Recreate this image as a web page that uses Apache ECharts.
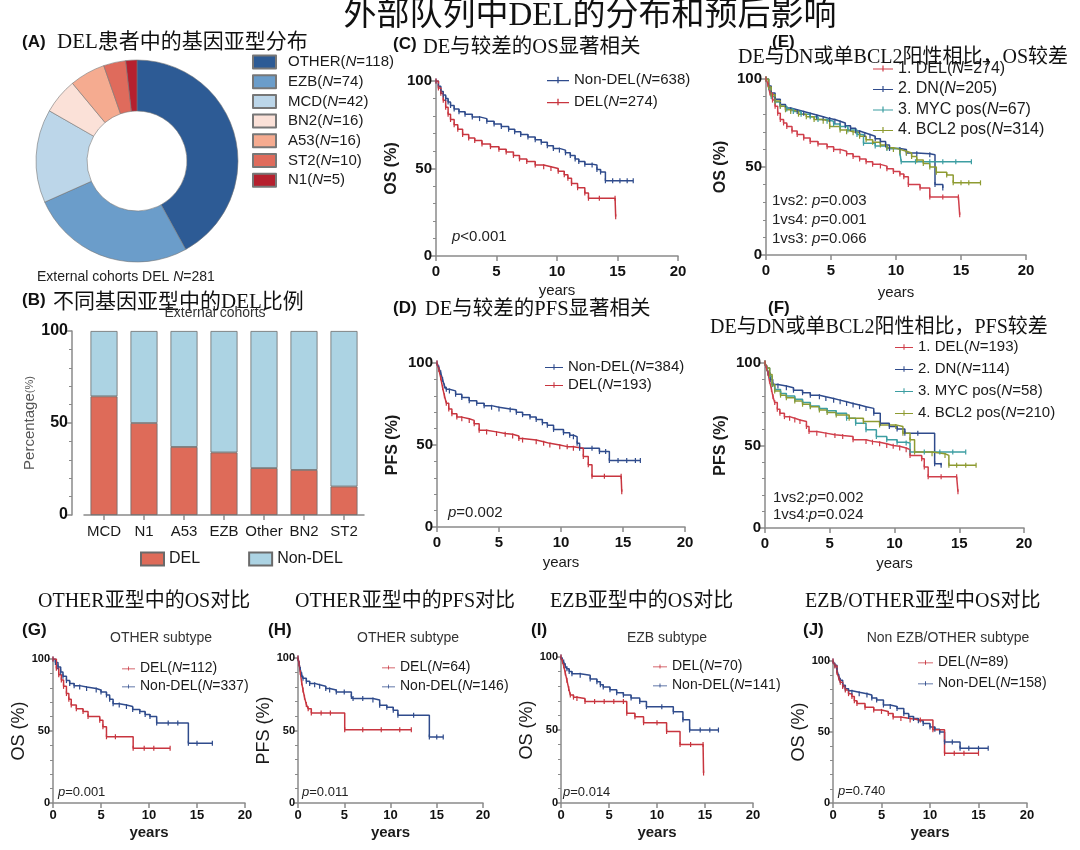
<!DOCTYPE html>
<html><head><meta charset="utf-8">
<script src="https://cdn.jsdelivr.net/npm/echarts/dist/echarts.min.js"></script>
<style>html,body{margin:0;padding:0;background:#fff}#c{width:1080px;height:850px}</style>
</head><body><div id="c"></div>
<script>
// ---------- DATA ----------
const subtypeNames = ['OTHER','EZB','MCD','BN2','A53','ST2','N1'];
const subtypeCounts = [118,74,42,16,16,10,5];

const barCategories = ['MCD','N1','A53','EZB','Other','BN2','ST2'];
const delPct    = [64.5,50,37,34,25.5,24.5,15.5];
const nonDelPct = [35.5,50,63,66,74.5,75.5,84.5];

const yTicksPct = [0,50,100];
const xTicksYears = [0,5,10,15,20];

// (C) OS all
const osAllNonDel = [[0,100],[0.2,97],[0.4,94],[0.6,92],[0.8,90],[1.0,88],[1.2,86],[1.5,84],[1.9,82.5],[2.4,81],[3.0,79.5],[3.6,78.5],[4.2,77],[4.8,75.5],[5.4,74],[6.0,72.5],[6.5,71],[7.0,69.5],[7.6,68],[8.2,66.5],[8.7,65],[9.2,63],[9.7,61.5],[10.2,60.5],[10.7,59],[11.1,57.5],[11.5,55.5],[11.8,54],[12.3,52.5],[12.9,52],[13.3,49.5],[13.6,48],[14.0,43],[14.6,43],[15.2,43],[15.8,43],[16.3,43]];
const osAllDel = [[0,100],[0.2,96],[0.4,93],[0.6,89],[0.8,85],[1.0,81],[1.2,78],[1.5,75],[1.8,72.5],[2.2,69.5],[2.7,67.5],[3.2,66],[3.8,64],[4.5,62.5],[5.2,61],[5.8,59.5],[6.4,57.5],[6.9,55.5],[7.5,54],[8.2,52],[8.9,51],[9.5,50],[10.1,48.5],[10.6,46.5],[10.9,44.5],[11.2,41.5],[11.7,39],[12.3,36],[12.6,33],[13.5,33],[14.8,33],[14.85,22.5]];
// (D) PFS all
const pfsAllNonDel = [[0,100],[0.15,97],[0.3,94],[0.45,90],[0.6,86],[0.75,84],[1.0,83],[1.5,81],[2.0,79],[2.6,77],[3.2,75.5],[3.8,74],[4.4,73],[5.0,72],[5.9,71.5],[6.4,70],[6.9,68.5],[7.5,67],[8.0,65.5],[8.5,63.5],[8.9,62],[9.4,59.5],[10.2,57.5],[10.7,56],[11.0,55],[11.3,51],[11.5,48],[12.5,48],[13.1,46],[13.6,46],[13.9,40.5],[14.6,40.5],[15.3,40.5],[16.0,40.5],[16.4,40.5]];
const pfsAllDel = [[0,100],[0.15,96],[0.3,91],[0.45,85],[0.6,80],[0.75,75.5],[0.95,72],[1.2,69],[1.6,67],[2.0,66],[2.6,65],[3.0,63],[3.4,59],[4.0,58],[4.8,57],[5.5,56.5],[6.1,55.5],[6.6,54],[6.9,53],[8.0,52],[8.6,51],[9.1,50],[9.9,49],[10.5,49],[11.0,48],[11.8,43],[12.2,38],[12.5,31],[13.5,31],[14.85,31],[14.9,21.5]];
// (E) OS groups
const osGroupDel = [[0,100],[0.15,97],[0.3,92],[0.5,88],[0.7,84.5],[0.9,80.5],[1.1,77],[1.35,75],[1.6,73],[2.0,70.5],[2.4,68.5],[2.9,66.5],[3.4,64.5],[4.0,63],[4.7,61.5],[5.2,60],[5.7,59],[6.2,57.5],[6.7,56],[7.2,54.5],[7.7,53],[8.2,51.5],[8.8,50.5],[9.3,49],[9.8,47.5],[10.3,46],[10.6,44.5],[10.95,40],[11.85,38],[12.6,33],[13.6,33],[14.8,33],[14.9,22.8]];
const osGroupDN = [[0,100],[0.2,96],[0.4,92],[0.7,88.5],[1.1,85.5],[1.5,83.5],[1.9,82.5],[2.4,81.5],[2.9,80.5],[3.4,79.5],[3.9,78.5],[4.4,77.5],[4.9,77],[5.3,76],[5.7,75],[6.1,73.5],[6.5,72],[6.9,70.5],[7.2,69.5],[7.6,68.5],[8.0,67.5],[8.4,66],[8.8,64.5],[9.2,62.5],[9.5,60.5],[10.3,60],[10.8,58],[11.6,57.5],[12.6,57],[13.0,40],[13.6,38]];
const osGroupMYC = [[0,100],[0.2,95],[0.4,90],[0.7,87],[1.1,84.5],[1.6,83],[2.1,81.5],[2.7,80],[3.4,78.5],[4.0,77],[4.7,76],[5.2,74.5],[5.7,73],[6.3,71],[7.0,68.5],[7.5,63.5],[8.4,62],[9.3,60.5],[10.3,58],[10.4,53],[11.5,53],[12.6,53],[13.6,53],[14.6,53],[15.8,53]];
const osGroupBCL2 = [[0,100],[0.2,95.5],[0.4,91],[0.7,87.5],[1.1,84.5],[1.5,82.5],[1.9,81.5],[2.5,80],[3.1,78.5],[3.7,77],[4.4,76],[4.9,73],[5.7,71],[6.2,70],[6.7,69.5],[7.2,67.5],[7.7,65.5],[8.2,64],[8.8,62.5],[9.3,61],[9.8,60],[10.3,59],[10.8,58],[11.2,56],[11.6,54],[12.1,52],[12.6,50],[13.1,47],[13.9,45.5],[14.4,41],[15.0,41],[15.6,41],[16.5,41]];
// (F) PFS groups
const pfsGroupDel = [[0,100],[0.12,97],[0.23,94],[0.35,89],[0.5,84],[0.62,79.5],[0.75,76],[0.95,72],[1.15,69.5],[1.5,67.5],[1.9,66.5],[2.3,65.5],[2.7,64.5],[3.2,61.5],[3.4,58.5],[4.0,57.5],[4.7,56.5],[5.4,56],[6.0,55.5],[6.8,53.5],[7.8,52.5],[8.3,52],[8.85,51],[9.4,50],[9.9,49.5],[10.4,48.5],[10.9,47.5],[11.2,44],[12.1,42],[12.3,37],[12.6,31],[13.6,31],[14.8,31],[14.9,22]];
const pfsGroupDN = [[0,100],[0.12,97],[0.23,94],[0.4,90],[0.6,87],[1.0,86],[1.65,85],[2.2,83.5],[2.9,82],[3.5,80.5],[4.2,79.5],[4.7,78.5],[5.3,77.5],[5.8,76.5],[6.3,75.5],[6.8,74.5],[7.3,73.5],[7.8,72.5],[8.4,69.5],[8.9,63.5],[9.6,61.5],[10.2,60],[10.8,57.5],[11.8,57.5],[13.1,39],[13.6,38]];
const pfsGroupMYC = [[0,100],[0.15,97],[0.36,92],[0.55,87],[0.75,84],[1.2,81.5],[1.65,80],[2.3,78],[2.9,76],[3.5,74],[4.2,72.5],[4.8,71],[5.5,69.5],[6.3,66.5],[7.0,63.5],[7.8,59.5],[8.6,55.5],[9.4,53.5],[10.2,52],[10.9,51.5],[11.2,46],[12.3,46],[13.5,46],[14.5,46],[15.5,46]];
const pfsGroupBCL2 = [[0,100],[0.15,97],[0.36,93],[0.55,87],[0.75,83],[1.2,80.5],[1.65,79],[2.3,77],[2.9,75],[3.5,73.5],[4.2,71.5],[4.8,70],[5.5,68.5],[6.5,66.5],[7.6,64.5],[8.85,62.5],[10.1,61.5],[10.65,57.5],[11.2,53.5],[11.55,46],[12.9,45],[13.9,44],[14.2,38],[14.8,38],[15.5,38],[16.3,38]];
// (G) OTHER OS
const otherOsDel = [[0,100],[0.35,93.5],[0.6,89],[0.87,85.5],[1.1,81],[1.4,76],[1.65,72],[1.9,68],[2.43,65.5],[3.13,63.5],[3.65,60],[4.87,57.5],[5.2,53],[5.57,46],[6.5,46],[8.35,38],[9.5,38],[10.5,38],[12.2,38]];
const otherOsNonDel = [[0,100],[0.25,97.5],[0.52,94.5],[0.8,91],[1.04,88],[1.4,85],[1.74,83],[2.2,81.5],[2.78,80.5],[3.5,79.5],[4.5,78.5],[5.0,77],[5.57,75],[5.9,72],[6.26,69],[6.9,68],[7.65,67],[8.3,65],[9.04,63.5],[9.6,61.5],[10.1,60],[10.8,55.5],[12.0,55.5],[13.0,55.5],[14.1,41.5],[15.0,41.5],[16.6,41.5]];
// (H) OTHER PFS
const otherPfsDel = [[0,100],[0.12,96],[0.25,90],[0.4,83],[0.54,78],[0.7,73],[0.9,68],[1.1,65],[1.44,62],[2.5,62],[3.5,62],[5.05,50.5],[7.0,50.5],[9.0,50.5],[11.0,50.5],[12.25,50.5]];
const otherPfsNonDel = [[0,100],[0.12,96],[0.25,92],[0.4,88.5],[0.54,86],[0.9,84],[1.26,82.5],[1.8,81.5],[2.34,80.5],[3.0,79],[3.42,78],[4.14,76.5],[5.0,76.5],[5.77,73.5],[5.95,72],[7.0,72],[8.1,71],[8.83,67.5],[9.6,66],[10.3,64],[10.8,60.5],[12.5,60.5],[14.2,45.5],[15.0,45.5],[15.7,45.5]];
// (I) EZB OS
const ezbOsDel = [[0,100],[0.15,97],[0.28,94],[0.45,89],[0.62,84],[0.8,78.5],[0.97,74],[1.3,72.5],[1.66,71.5],[2.5,69.5],[3.5,69.5],[4.5,69.5],[5.5,69.5],[6.5,69.5],[6.85,61.5],[7.7,59],[8.6,55],[10.0,55],[11.0,49],[12.4,40],[13.5,40],[14.8,40],[14.85,20.5]];
const ezbOsNonDel = [[0,100],[0.15,98],[0.28,96.5],[0.45,94],[0.62,92],[0.85,90],[1.14,88.5],[2.0,87.5],[3.04,85],[3.74,83],[4.1,81],[4.4,79.5],[5.1,77.5],[5.8,75.5],[6.5,74],[7.3,72],[8.2,69.5],[8.9,66],[10.5,66],[11.7,62.5],[12.7,57],[13.4,50],[14.5,50],[15.5,50],[16.4,50]];
// (J) non EZB/OTHER OS
const nonEzbOsDel = [[0,100],[0.2,96.5],[0.41,92],[0.6,88],[0.75,85],[1.0,82],[1.27,79.5],[1.6,77],[1.95,75],[2.2,72],[2.47,70],[3.3,67.5],[4.2,65.5],[5.0,64.5],[5.7,63],[6.2,60.5],[7.0,59.5],[7.95,58.5],[9.0,58.5],[10.3,51.5],[11.5,35],[12.5,35],[13.5,35],[15.0,35]];
const nonEzbOsNonDel = [[0,100],[0.2,97],[0.41,93.5],[0.6,89],[0.75,86.5],[1.0,83],[1.27,80.5],[1.6,79],[1.95,78],[2.7,77],[3.5,76],[4.0,74],[4.5,72.5],[5.2,69],[5.9,68],[6.6,66.5],[7.3,63],[7.8,61],[8.3,59.5],[8.8,58],[9.3,56],[10.0,53.5],[10.5,52],[11.0,50],[11.5,43],[12.3,43],[13.1,38.5],[14.0,38.5],[15.0,38.5],[16.0,38.5]];

// ---------- STYLE ----------
const SANS = "'Liberation Sans', Arial, 'Noto Sans CJK SC', sans-serif";
const SERIF = "'Liberation Serif', 'Noto Sans CJK SC', serif";
const RED = '#c8353f', BLUE = '#2f4b8c', TEAL = '#3d9ea2', OLIVE = '#8e9b31';
const AX = '#8a8a8a';
const pieColors = ['#2d5b95','#6b9dca','#bcd6e9','#fbe1d8','#f5ab90','#df6b5c','#b5202e'];
const KM_ICON = 'path://M0,4.4h20v1.2h-20z M9.4,1.5h1.2v6h-1.2z';

const grids = [
  {left:84, top:331, width:280, height:184},   // B
  {left:436, top:81, width:242, height:175},   // C
  {left:437, top:363, width:248, height:164},  // D
  {left:766, top:79, width:260, height:176},   // E
  {left:765, top:363, width:259, height:165},  // F
  {left:53, top:659, width:192, height:144},   // G
  {left:298, top:658, width:185, height:145},  // H
  {left:561, top:657, width:192, height:146},  // I
  {left:833, top:661, width:194, height:142}   // J
];

const xAxes = [], yAxes = [];
// B axes
xAxes.push({gridIndex:0, type:'category', data:barCategories,
  axisLine:{show:true, lineStyle:{color:AX, width:1.5}},
  axisTick:{show:true, alignWithLabel:true, length:5, lineStyle:{color:AX, width:1.5}},
  axisLabel:{color:'#1a1a1a', fontSize:15, fontFamily:SANS, margin:9, interval:0},
  splitLine:{show:false}});
yAxes.push({gridIndex:0, type:'value', min:0, max:100, interval:50, offset:12,
  axisLine:{show:true, lineStyle:{color:AX, width:1.5}},
  axisTick:{show:true, length:5, lineStyle:{color:AX, width:1.5}},
  minorTick:{show:true, splitNumber:5, length:3, lineStyle:{color:AX, width:1}},
  axisLabel:{color:'#111', fontSize:16, fontWeight:'bold', fontFamily:SANS, margin:4,
    customValues: yTicksPct},
  splitLine:{show:false}, minorSplitLine:{show:false},
  name:'Percentage{s|(%)}', nameLocation:'middle', nameRotate:90, nameGap:22,
  nameTextStyle:{color:'#555', fontSize:15, fontFamily:SANS, rich:{s:{fontSize:11, color:'#555', fontFamily:SANS}}}});

function kmAxes(gi, big, yName, yGap, xGap) {
  const yl = big ? 15 : 11, xl = big ? 15 : 13;
  xAxes.push({gridIndex:gi, type:'value', min:0, max:20, interval:5,
    axisLine:{show:true, lineStyle:{color:AX, width:1.5}},
    axisTick:{show:true, length:5, lineStyle:{color:AX, width:1.5}},
    axisLabel:{color:'#111', fontSize:xl, fontWeight:'bold', fontFamily:SANS, margin:big?8:6, customValues: xTicksYears},
    splitLine:{show:false},
    name:'years', nameLocation:'middle', nameGap:xGap,
    nameTextStyle:{color:'#1a1a1a', fontSize:15, fontWeight: big?'normal':'bold', fontFamily:SANS}});
  yAxes.push({gridIndex:gi, type:'value', min:0, max:100, interval:50,
    axisLine:{show:true, lineStyle:{color:AX, width:1.5}},
    axisTick:{show:true, length:5, lineStyle:{color:AX, width:1.5}},
    minorTick:{show:true, splitNumber:5, length:3, lineStyle:{color:AX, width:1}},
    axisLabel:{color:'#111', fontSize:yl, fontWeight:'bold', fontFamily:SANS, margin:big?4:3, customValues: yTicksPct},
    splitLine:{show:false}, minorSplitLine:{show:false},
    name:yName, nameLocation:'middle', nameRotate:90, nameGap:yGap,
    nameTextStyle:{color:'#1a1a1a', fontSize: big?16:18, fontWeight: big?'bold':'normal', fontFamily:SANS}});
}
kmAxes(1, true, 'OS (%)', 36, 27);
kmAxes(2, true, 'PFS (%)', 36, 28);
kmAxes(3, true, 'OS (%)', 37, 30);
kmAxes(4, true, 'PFS (%)', 36, 28);
kmAxes(5, false, 'OS (%)', 16, 22);
kmAxes(6, false, 'PFS (%)', 23, 22);
kmAxes(7, false, 'OS (%)', 24, 22);
kmAxes(8, false, 'OS (%)', 25, 22);

const series = [];
series.push({type:'pie', center:[137,161], radius:[50,101], startAngle:90, clockwise:true,
  label:{show:false}, labelLine:{show:false}, silent:true,
  itemStyle:{borderColor:'#777', borderWidth:0.6},
  data: subtypeNames.map((n,i)=>({name:n+'(N='+subtypeCounts[i]+')', value:subtypeCounts[i], itemStyle:{color:pieColors[i]}}))});
series.push({type:'bar', name:'DEL', stack:'s', xAxisIndex:0, yAxisIndex:0, data:delPct, barWidth:27,
  itemStyle:{color:'#de6b59', borderColor:'#6a6a6a', borderWidth:0.8}, silent:true});
series.push({type:'bar', name:'Non-DEL', stack:'s', xAxisIndex:0, yAxisIndex:0, data:nonDelPct, barWidth:27,
  itemStyle:{color:'#acd3e3', borderColor:'#6a6a6a', borderWidth:0.8}, silent:true});

function km(gi, name, data, color) {
  series.push({type:'line', name, xAxisIndex:gi, yAxisIndex:gi, data, step:'end',
    color, lineStyle:{color, width:1.5}, itemStyle:{color},
    symbol:'rect', symbolSize:[1.2,5], showSymbol:true, showAllSymbol:true, silent:true});
}
km(1,'Non-DEL(N=638)',osAllNonDel,BLUE); km(1,'DEL(N=274)',osAllDel,RED);
km(2,'Non-DEL(N=384)',pfsAllNonDel,BLUE); km(2,'DEL(N=193)',pfsAllDel,RED);
km(3,'2. DN(N=205)',osGroupDN,BLUE); km(3,'3. MYC pos(N=67)',osGroupMYC,TEAL); km(3,'4. BCL2 pos(N=314)',osGroupBCL2,OLIVE); km(3,'1. DEL(N=274)',osGroupDel,'#d03f4b');
km(4,'2. DN(N=114)',pfsGroupDN,BLUE); km(4,'3. MYC pos(N=58)',pfsGroupMYC,TEAL); km(4,'4. BCL2 pos(N=210)',pfsGroupBCL2,OLIVE); km(4,'1. DEL(N=193)',pfsGroupDel,'#d03f4b');
km(5,'Non-DEL(N=337)',otherOsNonDel,BLUE); km(5,'DEL(N=112)',otherOsDel,RED);
km(6,'Non-DEL(N=146)',otherPfsNonDel,BLUE); km(6,'DEL(N=64)',otherPfsDel,RED);
km(7,'Non-DEL(N=141)',ezbOsNonDel,BLUE); km(7,'DEL(N=70)',ezbOsDel,RED);
km(8,'Non-DEL(N=158)',nonEzbOsNonDel,BLUE); km(8,'DEL(N=89)',nonEzbOsDel,RED);

const fmtN = n => n.replace('(N=', '({i|N}=');
function kmLegend(names, left, top, fs, lh, gap, iw) {
  return {data:names, left, top, orient:'vertical', icon:KM_ICON, itemWidth:iw, itemHeight:8,
    itemGap:gap, selectedMode:false, formatter:fmtN, padding:0,
    textStyle:{color:'#1a1a1a', fontSize:fs, lineHeight:lh, fontFamily:SANS,
      rich:{i:{fontStyle:'italic', fontSize:fs, lineHeight:lh, fontFamily:SANS, color:'#1a1a1a'}}}};
}
const legends = [
  {data: series[0].data.map(d=>d.name), left:252, top:54.5, orient:'vertical', icon:'rect',
   itemWidth:23, itemHeight:13, itemGap:4.7, selectedMode:false, formatter:fmtN, padding:0,
   textStyle:{color:'#1a1a1a', fontSize:15, lineHeight:15, fontFamily:SANS, padding:[0,0,0,7],
     rich:{i:{fontStyle:'italic', fontSize:15, lineHeight:15, fontFamily:SANS, color:'#1a1a1a'}}}},
  {data:['DEL','Non-DEL'], left:140, top:551, orient:'horizontal', icon:'rect', itemWidth:23, itemHeight:13,
   itemGap:48, selectedMode:false, padding:0,
   textStyle:{color:'#1a1a1a', fontSize:16, fontFamily:SANS}},
  kmLegend(['Non-DEL(N=638)','DEL(N=274)'], 547, 72, 15, 16, 6, 22),
  kmLegend(['Non-DEL(N=384)','DEL(N=193)'], 545, 359, 15, 16, 2, 18),
  kmLegend(['1. DEL(N=274)','2. DN(N=205)','3. MYC pos(N=67)','4. BCL2 pos(N=314)'], 873, 60, 16, 17, 3.5, 20),
  kmLegend(['1. DEL(N=193)','2. DN(N=114)','3. MYC pos(N=58)','4. BCL2 pos(N=210)'], 895, 339, 15, 16, 6, 18),
  kmLegend(['DEL(N=112)','Non-DEL(N=337)'], 122, 661, 14, 15, 3, 13),
  kmLegend(['DEL(N=64)','Non-DEL(N=146)'], 382, 660, 14, 15, 4, 13),
  kmLegend(['DEL(N=70)','Non-DEL(N=141)'], 653, 659, 14, 15, 4, 14),
  kmLegend(['DEL(N=89)','Non-DEL(N=158)'], 918, 655, 14, 15, 6, 15)
];

function T(x, y, text, size, o) {
  o = o || {};
  const color = o.color || '#111';
  const fam = o.family || SANS;
  return {type:'text', x, y, silent:true, z:100, style:{
    text, fontSize:size, fontFamily:fam, fontWeight:o.weight||'normal', fill:color,
    align:o.align||'left', verticalAlign:'middle',
    rich:{i:{fontStyle:'italic', fontSize:size, fontFamily:fam, fill:color, fontWeight:o.weight||'normal'}}}};
}
const graphics = [
  T(590, 16, '外部队列中DEL的分布和预后影响', 33, {family:SERIF, align:'center'}),
  T(22, 42, '(A)', 17, {weight:'bold'}),
  T(57, 42, 'DEL患者中的基因亚型分布', 21, {family:SERIF}),
  T(37, 277, 'External cohorts DEL {i|N}=281', 14, {color:'#222'}),
  T(22, 300, '(B)', 17, {weight:'bold'}),
  T(53, 302, '不同基因亚型中的DEL比例', 21, {family:SERIF}),
  T(215, 313, 'External cohorts', 14, {align:'center', color:'#333'}),
  T(393, 44, '(C)', 17, {weight:'bold'}),
  T(423, 48, 'DE与较差的OS显著相关', 20.5, {family:SERIF}),
  T(452, 237, '{i|p}<0.001', 15, {color:'#222'}),
  T(393, 308, '(D)', 17, {weight:'bold'}),
  T(425, 310, 'DE与较差的PFS显著相关', 20.5, {family:SERIF}),
  T(448, 513, '{i|p}=0.002', 15, {color:'#222'}),
  T(772, 42, '(E)', 17, {weight:'bold'}),
  T(738, 58, 'DE与DN或单BCL2阳性相比，OS较差', 20, {family:SERIF}),
  T(772, 201, '1vs2: {i|p}=0.003', 15, {color:'#222'}),
  T(772, 220, '1vs4: {i|p}=0.001', 15, {color:'#222'}),
  T(772, 239, '1vs3: {i|p}=0.066', 15, {color:'#222'}),
  T(768, 308, '(F)', 17, {weight:'bold'}),
  T(710, 328, 'DE与DN或单BCL2阳性相比，PFS较差', 20, {family:SERIF}),
  T(773, 498, '1vs2:{i|p}=0.002', 15, {color:'#222'}),
  T(773, 515, '1vs4:{i|p}=0.024', 15, {color:'#222'}),
  T(38, 602, 'OTHER亚型中的OS对比', 20, {family:SERIF}),
  T(22, 630, '(G)', 17, {weight:'bold'}),
  T(161, 638, 'OTHER subtype', 14, {align:'center', color:'#333'}),
  T(58, 792, '{i|p}=0.001', 13, {color:'#222'}),
  T(295, 602, 'OTHER亚型中的PFS对比', 20, {family:SERIF}),
  T(268, 630, '(H)', 17, {weight:'bold'}),
  T(408, 638, 'OTHER subtype', 14, {align:'center', color:'#333'}),
  T(302, 792, '{i|p}=0.011', 13, {color:'#222'}),
  T(550, 602, 'EZB亚型中的OS对比', 20, {family:SERIF}),
  T(531, 630, '(I)', 17, {weight:'bold'}),
  T(667, 638, 'EZB subtype', 14, {align:'center', color:'#333'}),
  T(563, 792, '{i|p}=0.014', 13, {color:'#222'}),
  T(805, 602, 'EZB/OTHER亚型中OS对比', 20, {family:SERIF}),
  T(803, 630, '(J)', 17, {weight:'bold'}),
  T(948, 638, 'Non EZB/OTHER subtype', 14, {align:'center', color:'#333'}),
  T(838, 791, '{i|p}=0.740', 13, {color:'#222'})
];

const chart = echarts.init(document.getElementById('c'), null, {renderer:'canvas'});
chart.setOption({
  backgroundColor:'#fff', animation:false,
  grid: grids.map(g=>Object.assign({containLabel:false}, g)),
  xAxis: xAxes, yAxis: yAxes, legend: legends, series, graphic: graphics
});
</script></body></html>
